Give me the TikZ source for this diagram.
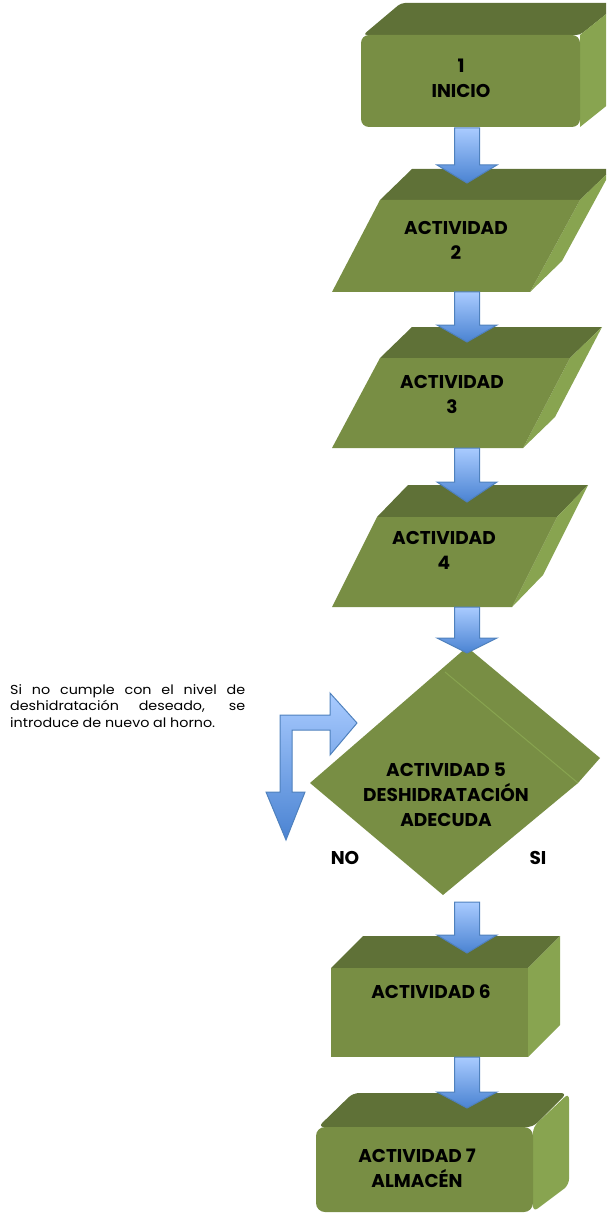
\documentclass[tikz,border=0pt]{standalone}
\usepackage{fontspec}
\setmainfont{Poppins}
\newfontfamily\notefont[FakeStretch=1.1]{Poppins}
\usetikzlibrary{calc}
\definecolor{gfront}{HTML}{788E44}
\definecolor{gtop}{HTML}{5F7137}
\definecolor{gside}{HTML}{88A450}
\definecolor{bedge}{HTML}{4F81BD}
\definecolor{blight}{HTML}{A9CBFF}
\definecolor{bdark}{HTML}{4A83D2}
\tikzset{
  frontface/.style={fill=gfront},
  topface/.style={fill=gtop},
  sideface/.style={fill=gside},
  lbl/.style={font=\fontsize{18.5}{25}\selectfont\bfseries, align=center, inner sep=0pt},
  barrow/.style={top color=blight, bottom color=bdark, draw=bedge, line width=1pt, line join=miter},
  pics/darr/.style 2 args={code={
    \path[barrow] (-12.5,0) -- (12.5,0) -- (12.5,#1) -- (30,#1) -- (0,#2) -- (-30,#1) -- (-12.5,#1) -- cycle;}}
}
\begin{document}
\begin{tikzpicture}[x=1pt,y=-1pt]
\useasboundingbox (0,0) rectangle (606,1214);
\clip (0,0) rectangle (606,1214);

% Box 1
\fill[topface, rounded corners=4] (363,35) -- (401,3) -- (620,3) -- (580,35) -- cycle;
\fill[sideface] (580,35) -- (620,3) -- (620,95) -- (580,127) -- cycle;
\fill[frontface, rounded corners=8] (361,35) rectangle (580,127);
\node[lbl] (n1) at (461,78) {1\\INICIO};

% Parallelogram 2
\fill[topface] (380,200) -- (412,169) -- (612,169) -- (580,200) -- cycle;
\fill[sideface] (580,200) -- (612,169) -- (562,261) -- (530,292) -- cycle;
\fill[frontface] (380,200) -- (580,200) -- (530,292) -- (332,292) -- cycle;
\node[lbl] (n2) at (456,240) {ACTIVIDAD\\2};

% Parallelogram 3
\fill[topface] (380,358) -- (412,327) -- (602,327) -- (570,358) -- cycle;
\fill[sideface] (570,358) -- (602,327) -- (555,417) -- (523,448) -- cycle;
\fill[frontface] (380,358) -- (570,358) -- (523,448) -- (332,448) -- cycle;
\node[lbl] (n3) at (452,394) {ACTIVIDAD\\3};

% Parallelogram 4
\fill[topface] (377,517) -- (408,485) -- (588,485) -- (557,517) -- cycle;
\fill[sideface] (557,517) -- (588,485) -- (543,575) -- (512,607) -- cycle;
\fill[frontface] (377,517) -- (557,517) -- (512,607) -- (332,607) -- cycle;
\node[lbl] (n4) at (444,550) {ACTIVIDAD\\4};

% Diamond 5
\fill[frontface] (310,783) -- (467,647) -- (600,758) -- (578,783) -- (443,895) -- cycle;
\draw[gside, line width=1pt] (445,672) -- (578,783);
\node[lbl] (n5) at (446,795) {ACTIVIDAD 5\\DESHIDRATACIÓN\\ADECUDA};
\node[lbl] (no) at (345,858) {NO};
\node[lbl] (si) at (538,858) {SI};

% Box 6
\fill[topface] (331,968) -- (363,936) -- (560,936) -- (528,968) -- cycle;
\fill[sideface] (528,968) -- (560,936) -- (560,1025) -- (528,1057) -- cycle;
\fill[frontface] (331,968) rectangle (528,1057);
\node[lbl] (n6) at (431,992) {ACTIVIDAD 6};

% Box 7
\fill[topface, rounded corners=6] (318,1127) -- (353,1093) -- (567,1093) -- (533,1127) -- cycle;
\fill[sideface, rounded corners=6] (533,1127) -- (569,1093) -- (569,1185) -- (533,1212) -- cycle;
\fill[frontface, rounded corners=9] (316,1127) rectangle (533,1212);
\node[lbl] (n7) at (417,1168) {ACTIVIDAD 7\\ALMACÉN};

% Down arrows
\pic at (467,128) {darr={37}{55}};
\pic at (467,292) {darr={33}{50}};
\pic at (467,448) {darr={34}{54}};
\pic at (467,607) {darr={31}{46}};
\pic at (467,902) {darr={33}{51}};
\pic at (467,1057) {darr={35}{51}};

% Return arrow (NO)
\path[barrow] (280,715) -- (330,715) -- (330,693) -- (357,723) -- (330,755) -- (330,730)
  -- (292,730) -- (292,792) -- (305,792) -- (286,840) -- (266,792) -- (280,792) -- cycle;

% Note
\node[anchor=north west, inner sep=0pt, text width=235pt, align=justify,
  font=\notefont\fontsize{13}{16.5}\selectfont] (note) at (10,684)
  {Si no cumple con el nivel de\linebreak deshidratación deseado, se\linebreak introduce de nuevo al horno.};
\end{tikzpicture}
\end{document}
